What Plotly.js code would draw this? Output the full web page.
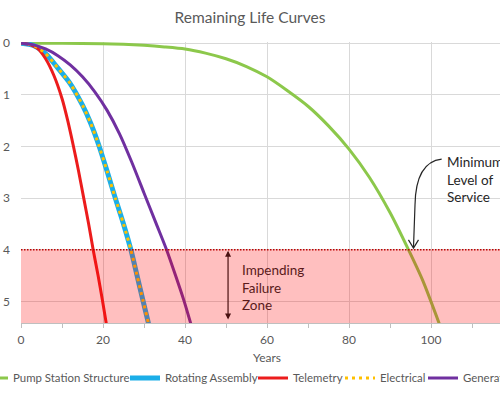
<!DOCTYPE html>
<html>
<head>
<meta charset="utf-8">
<script src="https://cdn.plot.ly/plotly-3.0.1.min.js"></script>
<style>
html,body{margin:0;padding:0;overflow:hidden;width:500px;height:400px;background:#fff;}
#chart{width:540px;height:400px;}
</style>
</head>
<body>
<div id="chart"></div>
<script>
// ---- data (years -> remaining-life index, axis reversed) ----
const seriesNames = ['Pump Station Structure', 'Rotating Assembly', 'Telemetry', 'Electrical', 'Generator'];

const pumpYears = [0, 10, 20, 25, 30, 35, 40, 45, 50, 55, 60, 65, 70, 75, 80, 85, 90, 94.5, 98, 102];
const pumpLife  = [0, 0, 0.01, 0.02, 0.04, 0.07, 0.11, 0.19, 0.3, 0.45, 0.65, 0.92, 1.22, 1.6, 2.05, 2.6, 3.28, 4.0, 4.6, 5.43];

const rotYears = [0, 3, 6, 9, 12, 15, 17, 19, 21, 23, 25, 26.8, 28.3, 29.8, 31.1];
const rotLife  = [0, 0.04, 0.2, 0.48, 0.78, 1.2, 1.55, 1.98, 2.48, 3.0, 3.5, 4.0, 4.5, 5.0, 5.43];

const teleYears = [0, 2, 4, 6, 8, 10, 11.4, 12.8, 14, 15.3, 16.5, 17.6, 18.8, 19.9, 20.8];
const teleLife  = [0, 0.02, 0.1, 0.3, 0.62, 1.07, 1.5, 2.0, 2.46, 3.0, 3.5, 4.0, 4.5, 5.0, 5.43];

const elecYears = [0, 3, 6, 9, 12, 15, 17, 19, 21, 23, 25, 26.8, 28.3, 29.8, 31.1];
const elecLife  = [0, 0.04, 0.2, 0.48, 0.78, 1.2, 1.55, 1.98, 2.48, 3.0, 3.5, 4.0, 4.5, 5.0, 5.43];

const genYears = [0, 3, 6, 9, 12, 15, 18, 21, 24, 27, 30, 33, 35.5, 37.7, 39.8, 41.4];
const genLife  = [0, 0.03, 0.11, 0.24, 0.42, 0.65, 0.94, 1.3, 1.75, 2.3, 2.9, 3.5, 4.0, 4.5, 5.0, 5.43];

const xTickVals = [0, 20, 40, 60, 80, 100];
const xTickText = ['0', '20', '40', '60', '80', '100'];
const xMinorVals = [10, 30, 50, 70, 90, 110];
const yTickVals = [0, 1, 2, 3, 4, 5];
const yTickText = ['0', '1', '2', '3', '4', '5'];

const minServiceLevel = 4;   // threshold of the failure zone
const axisMaxYears = 120;
const axisMaxLife = 5.42;

// ---- styling ----
const FONT = 'Lato, "Open Sans", sans-serif';
const GREY = '#595959';
const W = 540, H = 400;
const ML = 21, MR = 27, MT = 42, MB = 77;
const PW = W - ML - MR, PH = H - MT - MB;

// legend entry text positions (px from left) in the reference picture
const legendTextLeft = [19, 171, 299, 386, 469];
const legendIds = ['legend', 'legend2', 'legend3', 'legend4', 'legend5'];

const sm = 0.7;
const traces = [
  {x: pumpYears, y: pumpLife, name: seriesNames[0], mode: 'lines', legend: legendIds[0],
   line: {color: '#8CC84B', width: 3, shape: 'spline', smoothing: sm}},
  {x: rotYears, y: rotLife, name: seriesNames[1], mode: 'lines', legend: legendIds[1],
   line: {color: '#1BAEE8', width: 5, shape: 'spline', smoothing: sm}},
  {x: teleYears, y: teleLife, name: seriesNames[2], mode: 'lines', legend: legendIds[2],
   line: {color: '#EC1C1C', width: 3, shape: 'spline', smoothing: sm}},
  {x: elecYears, y: elecLife, name: seriesNames[3], mode: 'lines', legend: legendIds[3],
   line: {color: '#FFC000', width: 3, dash: '3px,4px', shape: 'spline', smoothing: sm}},
  {x: genYears, y: genLife, name: seriesNames[4], mode: 'lines', legend: legendIds[4],
   line: {color: '#7030A0', width: 3, shape: 'spline', smoothing: sm}}
];

const layout = {
  width: W, height: H,
  paper_bgcolor: '#fff', plot_bgcolor: '#fff',
  font: {family: FONT, color: GREY, size: 12},
  margin: {l: ML, r: MR, t: MT, b: MB, pad: 0, autoexpand: false},
  title: {text: 'Remaining Life Curves', font: {family: FONT, size: 15.5, color: GREY},
          x: 250 / W, xref: 'container', xanchor: 'center', y: 1 - 18 / H, yref: 'container', yanchor: 'middle'},
  showlegend: true,
  xaxis: {
    range: [0, axisMaxYears], tickmode: 'array', tickvals: xTickVals, ticktext: xTickText,
    ticks: 'outside', ticklen: 4, tickcolor: '#BFBFBF', ticklabelstandoff: 2,
    minor: {tickmode: 'array', tickvals: xMinorVals, ticks: 'outside', ticklen: 4, tickcolor: '#BFBFBF', showgrid: false},
    showgrid: true, gridcolor: '#D9D9D9', gridwidth: 1,
    showline: true, linecolor: '#BFBFBF', linewidth: 1, zeroline: false,
    tickfont: {family: FONT, size: 12, color: GREY},
    title: {text: 'Years', font: {family: FONT, size: 12, color: GREY}, standoff: 7}
  },
  yaxis: {
    range: [axisMaxLife, -0.025], tickmode: 'array', tickvals: yTickVals, ticktext: yTickText,
    ticks: '', showgrid: true, gridcolor: '#D9D9D9', gridwidth: 1,
    showline: false, zeroline: false,
    tickfont: {family: FONT, size: 12, color: GREY}, ticklabelstandoff: 10
  },
  shapes: [
    {type: 'rect', xref: 'x', yref: 'y', x0: 0, x1: axisMaxYears, y0: minServiceLevel, y1: axisMaxLife,
     fillcolor: 'rgba(255,0,0,0.25)', line: {width: 0}, layer: 'above'},
    {type: 'line', xref: 'x', yref: 'y', x0: 0, x1: axisMaxYears, y0: minServiceLevel, y1: minServiceLevel,
     line: {color: '#C00000', width: 1.5, dash: '1.5px,1.5px'}, layer: 'above'},
    {type: 'path', xref: 'x', yref: 'y', path: 'M 102.6,2.245 Q 96.3,2.30 96.1,3.13 L 95.73,3.96',
     line: {color: '#262626', width: 1.2}, layer: 'above'},
    {type: 'path', xref: 'x', yref: 'y', path: 'M 94.5,3.81 L 95.73,3.97 L 96.95,3.81',
     line: {color: '#262626', width: 1.2}, layer: 'above'}
  ],
  annotations: [
    {xref: 'x', yref: 'y', x: 103.5, y: 2.1, xanchor: 'left', yanchor: 'top', align: 'left',
     text: 'Minimum<br>Level of<br>Service', showarrow: false,
     font: {family: FONT, size: 13.5, color: '#262626'}},
    {xref: 'x', yref: 'y', x: 53.4, y: 4.2, xanchor: 'left', yanchor: 'top', align: 'left',
     text: 'Impending<br>Failure<br>Zone', showarrow: false,
     font: {family: FONT, size: 13.5, color: '#5A1A1A'}},
    {xref: 'x', yref: 'y', x: 50.5, y: 4.02, axref: 'x', ayref: 'y', ax: 50.5, ay: 5.38,
     text: '', showarrow: true, arrowhead: 2, startarrowhead: 2, arrowside: 'end+start',
     arrowsize: 1, arrowwidth: 1.2, arrowcolor: '#4A1212'}
  ]
};

legendIds.forEach(function (id, i) {
  layout[id] = {
    orientation: 'h', xref: 'paper', yref: 'paper',
    x: (legendTextLeft[i] - 46 - ML) / PW, xanchor: 'left',
    y: (MT + PH - 378) / PH, yanchor: 'middle',
    font: {family: FONT, size: 11.4, color: GREY}, bgcolor: 'rgba(0,0,0,0)', borderwidth: 0
  };
});

Plotly.newPlot('chart', traces, layout, {staticPlot: true, displayModeBar: false});
</script>
</body>
</html>
